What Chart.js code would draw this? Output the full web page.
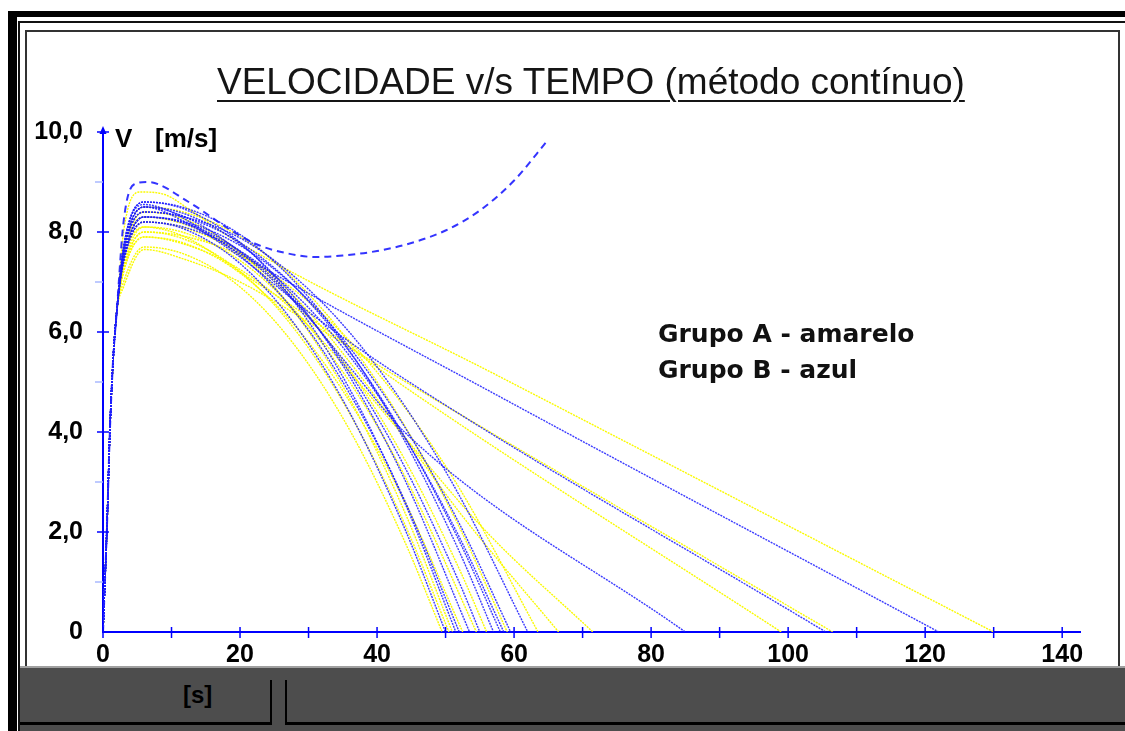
<!DOCTYPE html>
<html>
<head>
<meta charset="utf-8">
<title>Velocidade v/s Tempo</title>
<script src="https://cdn.jsdelivr.net/npm/chart.js@4.4.1/dist/chart.umd.min.js"></script>
<style>
  body { margin: 0; width: 1125px; height: 731px; background: #fff; position: relative; overflow: hidden;
         font-family: "Liberation Sans", Arial, sans-serif; }
  .abs { position: absolute; }
  .titulo { left: 217px; top: 63px; font-size: 37px; line-height: 37px; color: #151515; white-space: nowrap;
            text-decoration: underline; text-decoration-thickness: 2px; text-underline-offset: 6px; }
  .unidade { top: 125px; font-size: 26px; line-height: 26px; font-weight: bold; color: #000; }
  .legenda { left: 658px; font-family: "DejaVu Sans", Verdana, sans-serif; font-size: 25px; line-height: 36px;
             font-weight: bold; color: #111; white-space: nowrap; }
  .rodape { left: 183px; top: 683px; font-size: 24px; line-height: 24px; font-weight: bold; color: #000; }
</style>
</head>
<body>
<!-- window frame -->
<div class="abs" style="left:8px;top:11px;width:1117px;height:6px;background:#000"></div>
<div class="abs" style="left:8px;top:11px;width:9px;height:720px;background:#000"></div>
<div class="abs" style="left:18px;top:21px;width:1107px;height:2px;background:#111"></div>
<div class="abs" style="left:18px;top:21px;width:2px;height:710px;background:#111"></div>
<div class="abs" style="left:25px;top:30px;width:1091px;height:640px;border:2px solid #333;border-bottom:0"></div>

<canvas id="grafico" class="abs" width="1091" height="634" style="left:27px;top:32px"></canvas>

<!-- status bar -->
<div class="abs" style="left:20px;top:666px;width:1105px;height:65px;background:#4d4d4d;border-top:2px solid #a0a0a0;box-sizing:border-box"></div>
<div class="abs" style="left:270px;top:680px;width:2px;height:45px;background:#000"></div>
<div class="abs" style="left:20px;top:722px;width:252px;height:3px;background:#000"></div>
<div class="abs" style="left:285px;top:680px;width:2px;height:45px;background:#000"></div>
<div class="abs" style="left:285px;top:722px;width:840px;height:3px;background:#000"></div>
<div class="abs rodape">[s]</div>

<div class="abs titulo">VELOCIDADE v/s TEMPO (método contínuo)</div>
<div class="abs unidade" style="left:115px">V</div>
<div class="abs unidade" style="left:155px">[m/s]</div>
<div class="abs legenda" style="top:316px">Grupo A - amarelo</div>
<div class="abs legenda" style="top:352px">Grupo B - azul</div>

<script>
// common start of every run: [t (s), v (m/s)]
const arranque = [[0, 0], [0.6, 2.2], [1, 4], [1.5, 5.5], [2, 6.4]];

// Grupo A (amarelo): rest of each run after the start
const grupoA = [
  [[3, 7.0], [6, 7.7], [12, 7.55], [20, 6.9], [28, 5.73], [36, 4.04], [44, 1.82], [49.5, 0]],
  [[3, 7.25], [6, 8.0], [12, 7.85], [20, 7.21], [28, 6.05], [36, 4.37], [44, 2.17], [50.5, 0]],
  [[3, 7.5], [6, 8.4], [12, 8.25], [20, 7.59], [28, 6.39], [36, 4.67], [44, 2.41], [51, 0]],
  [[3, 7.2], [6, 7.9], [12, 7.77], [20, 7.18], [28, 6.13], [36, 4.61], [44, 2.62], [52.5, 0]],
  [[3, 7.3], [6, 8.1], [12, 7.98], [20, 7.43], [28, 6.43], [36, 5.0], [44, 3.13], [54.5, 0]],
  [[3, 7.4], [6, 8.2], [12, 8.08], [20, 7.56], [28, 6.61], [36, 5.25], [44, 3.46], [52, 1.26], [56, 0]],
  [[3, 7.6], [6, 8.5], [12, 8.39], [20, 7.91], [28, 7.04], [36, 5.78], [44, 4.13], [52, 2.1], [59, 0]],
  [[3, 7.25], [6, 8.0], [12, 7.91], [20, 7.53], [28, 6.83], [36, 5.82], [44, 4.5], [52, 2.88], [63.5, 0]],
  [[3, 7.5], [6, 8.3], [12, 8.15], [20, 7.6], [28, 6.7], [36, 5.4], [44, 3.9], [52, 2.4], [66.5, 0]],
  [[3, 7.2], [6, 7.9], [12, 7.75], [20, 7.25], [28, 6.4], [36, 5.2], [44, 3.9], [56, 2.0], [71.5, 0]],
  [[3, 7.4], [6, 8.1], [12, 7.9], [20, 7.2], [30, 6.3], [43, 5.0], [99, 0]],
  [[3, 6.9], [6, 7.65], [12, 7.45], [20, 7.0], [30, 6.2], [43, 5.1], [106.5, 0]],
  [[3, 8.0], [5.5, 8.8], [9, 8.75], [12.7, 8.44], [18.5, 7.9], [58, 5.1], [130, 0]]
];

// Grupo B (azul)
const grupoB = [
  [[3, 7.4], [6, 8.2], [12, 8.05], [20, 7.37], [28, 6.15], [36, 4.39], [44, 2.08], [50, 0]],
  [[3, 7.7], [6, 8.6], [12, 8.45], [20, 7.79], [28, 6.59], [36, 4.86], [44, 2.6], [51.5, 0]],
  [[3, 7.45], [6, 8.3], [12, 8.16], [20, 7.53], [28, 6.4], [36, 4.77], [44, 2.64], [52, 0]],
  [[3, 7.6], [6, 8.5], [12, 8.36], [20, 7.76], [28, 6.68], [36, 5.11], [44, 3.06], [53.5, 0]],
  [[3, 7.45], [6, 8.3], [12, 8.18], [20, 7.62], [28, 6.63], [36, 5.19], [44, 3.31], [52, 0.99], [55, 0]],
  [[3, 7.7], [6, 8.6], [12, 8.48], [20, 7.95], [28, 7.0], [36, 5.62], [44, 3.83], [52, 1.61], [57, 0]],
  [[3, 7.55], [6, 8.4], [12, 8.29], [20, 7.79], [28, 6.9], [36, 5.6], [44, 3.91], [52, 1.82], [58, 0]],
  [[3, 7.4], [6, 8.2], [12, 8.09], [20, 7.62], [28, 6.76], [36, 5.52], [44, 3.9], [52, 1.9], [58.5, 0]],
  [[3, 7.45], [6, 8.3], [12, 8.2], [20, 7.73], [28, 6.9], [36, 5.69], [44, 4.11], [52, 2.17], [59.5, 0]],
  [[3, 7.55], [6, 8.4], [12, 8.3], [20, 7.88], [28, 7.1], [36, 5.99], [44, 4.53], [52, 2.73], [62, 0]],
  [[3, 7.6], [6, 8.5], [12, 8.3], [20, 7.6], [28, 6.6], [36, 5.3], [44, 4.0], [85, 0]],
  [[3, 7.6], [6, 8.5], [12, 8.2], [20, 7.5], [30, 6.4], [43, 5.15], [105.5, 0]],
  [[3, 7.7], [6, 8.55], [10, 8.4], [15, 8.0], [22, 7.4], [58, 4.7], [122, 0]]
];

// the one blue run that never comes back to zero (dashed)
const curvaTracejada = [[3, 8.2], [4.5, 8.95], [6.5, 9.0], [12.5, 8.6], [18.5, 8.05], [22.5, 7.75], [27, 7.57],
  [31, 7.5], [35, 7.53], [40, 7.62], [45, 7.78], [50, 8.03], [55, 8.43], [60, 9.03], [65, 9.85]];

const ticksX = [0, 10, 20, 30, 40, 50, 60, 70, 80, 90, 100, 110, 120, 130, 140];
const ticksY = [0, 1, 2, 3, 4, 5, 6, 7, 8, 9, 10];

const AZUL = 'rgba(25, 25, 255, 0.85)';
const AMARELO = 'rgb(250, 250, 0)';

function toPoints(curva) {
  return arranque.concat(curva).map(([x, y]) => ({ x, y }));
}

const datasets = [];
grupoA.forEach(c => datasets.push({ data: toPoints(c), borderColor: AMARELO, borderDash: [2, 1], order: 2 }));
grupoB.forEach(c => datasets.push({ data: toPoints(c), borderColor: AZUL, borderDash: [2, 1], order: 1 }));
datasets.push({ data: toPoints(curvaTracejada), borderColor: 'rgba(30, 30, 255, 0.9)', borderWidth: 2, borderDash: [7, 5], order: 0 });

// tick marks crossing the axes and the arrow on V
const eixos = {
  id: 'eixos',
  afterDraw(chart) {
    const ctx = chart.ctx;
    const x = chart.scales.x, y = chart.scales.y;
    const x0 = chart.chartArea.left, y0 = chart.chartArea.bottom;
    ctx.save();
    ctx.strokeStyle = '#0000ff';
    ctx.lineWidth = 1.5;
    ticksX.forEach(v => {
      const px = x.getPixelForValue(v);
      ctx.beginPath(); ctx.moveTo(px, y0 - 5); ctx.lineTo(px, y0 + 6); ctx.stroke();
    });
    ticksY.forEach(v => {
      if (v === 0) return;
      const py = y.getPixelForValue(v);
      ctx.beginPath();
      if (v % 2 === 0) {
        ctx.strokeStyle = '#0000ff';
        ctx.moveTo(x0 - 6, py); ctx.lineTo(x0 + 6, py);
      } else {
        ctx.strokeStyle = '#a8b8ff';
        ctx.moveTo(x0 - 8, py); ctx.lineTo(x0, py);
      }
      ctx.stroke();
    });
    const top = y.getPixelForValue(10);
    ctx.fillStyle = '#0000ff';
    ctx.beginPath();
    ctx.moveTo(x0, top - 6); ctx.lineTo(x0 - 3.5, top + 2); ctx.lineTo(x0 + 3.5, top + 2);
    ctx.closePath(); ctx.fill();
    ctx.restore();
  }
};

const fonteEixo = { family: '"Liberation Sans", Arial, sans-serif', size: 25, weight: 'bold' };

new Chart(document.getElementById('grafico'), {
  type: 'line',
  data: { datasets },
  options: {
    responsive: false,
    animation: false,
    layout: { padding: { left: 0, right: 38, top: 100, bottom: 0 } },
    elements: {
      point: { radius: 0 },
      line: { borderWidth: 1.4, fill: false, cubicInterpolationMode: 'monotone' }
    },
    plugins: { legend: { display: false }, tooltip: { enabled: false }, title: { display: false } },
    scales: {
      x: {
        type: 'linear', min: 0, max: 142.6,
        afterFit: s => { s.height = 34; },
        grid: { display: false },
        border: { display: true, color: '#0000ff', width: 2 },
        ticks: {
          stepSize: 10, includeBounds: false, autoSkip: false, maxRotation: 0, padding: 0,
          color: '#000', font: fonteEixo,
          callback: v => (v % 20 === 0 ? String(v) : '')
        }
      },
      y: {
        type: 'linear', min: 0, max: 10,
        afterFit: s => { s.width = 76; },
        grid: { display: false },
        border: { display: true, color: '#0000ff', width: 2 },
        ticks: {
          stepSize: 1, includeBounds: false, autoSkip: false, padding: 12,
          color: '#000', font: fonteEixo,
          callback: v => (v % 2 !== 0 ? '' : v === 0 ? '0' : v.toFixed(1).replace('.', ','))
        }
      }
    }
  },
  plugins: [eixos]
});
</script>
</body>
</html>
